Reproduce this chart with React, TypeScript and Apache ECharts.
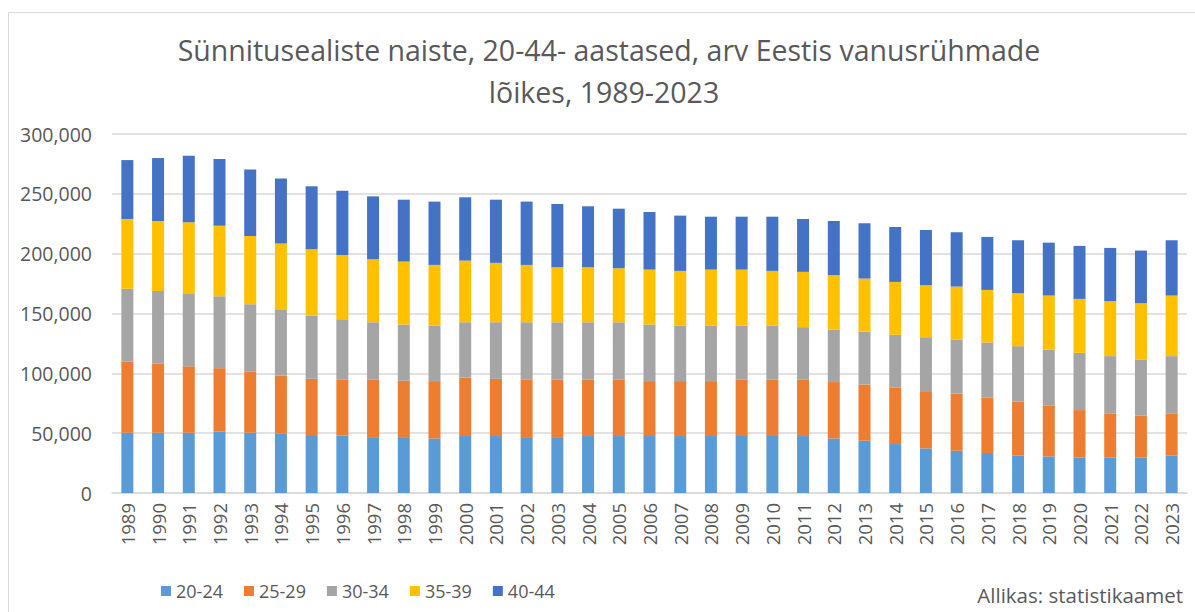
import React, { useEffect, useRef } from "react";
import * as echarts from "echarts";

const years = [
  "1989", "1990", "1991", "1992", "1993", "1994", "1995", "1996", "1997", "1998",
  "1999", "2000", "2001", "2002", "2003", "2004", "2005", "2006", "2007", "2008",
  "2009", "2010", "2011", "2012", "2013", "2014", "2015", "2016", "2017", "2018",
  "2019", "2020", "2021", "2022", "2023",
];

const age20_24 = [
  50400, 50400, 50400, 51500, 50400, 49500, 48400, 47900, 46700, 46700,
  45600, 47600, 47600, 46700, 46700, 47600, 47600, 47600, 47600, 47600,
  48400, 48400, 47600, 45600, 43700, 40900, 37300, 35300, 33400, 31400,
  30600, 29500, 29500, 29500, 31400,
];
const age25_29 = [
  59200, 57600, 55600, 52800, 50900, 48700, 47000, 46700, 47900, 47100,
  47900, 48900, 47800, 47900, 47900, 47000, 47000, 45900, 45900, 45900,
  46200, 46200, 47000, 47100, 47000, 47000, 47800, 47900, 46200, 45100,
  42300, 39800, 36700, 35100, 34800,
];
const age30_34 = [
  61000, 60900, 60900, 60100, 56500, 54800, 52900, 50600, 48100, 47000,
  46200, 46200, 47300, 48100, 48100, 48100, 48100, 47300, 46200, 46200,
  45100, 45100, 44000, 43900, 44200, 44300, 45100, 45100, 46200, 46200,
  47000, 47800, 48200, 47000, 48200,
];
const age35_39 = [
  58400, 58400, 59300, 59000, 57000, 55400, 55400, 53700, 52600, 52600,
  50900, 51500, 49600, 47900, 45900, 45900, 45100, 45900, 45900, 47000,
  47000, 45900, 46200, 45400, 44300, 44200, 43400, 44200, 43900, 44200,
  45100, 45100, 45900, 47000, 50600,
];
const age40_44 = [
  49200, 52600, 55700, 55700, 55600, 54500, 52600, 53700, 52600, 51700,
  52900, 52900, 52800, 52900, 52900, 51000, 49800, 48100, 46200, 44200,
  44200, 45300, 44200, 45300, 46200, 45900, 46200, 45400, 44300, 44300,
  44200, 44300, 44500, 44000, 46200,
];

const seriesNames = ["20-24", "25-29", "30-34", "35-39", "40-44"];
const seriesColors = ["#5b9bd5", "#ed7d31", "#a5a5a5", "#ffc000", "#4472c4"];
const seriesData = [age20_24, age25_29, age30_34, age35_39, age40_44];

const titleLines = [
  "Sünnitusealiste naiste, 20-44- aastased, arv Eestis vanusrühmade",
  "lõikes, 1989-2023",
];
const sourceText = "Allikas: statistikaamet";

const FONT = "'Open Sans', sans-serif";
const TXT = "#595959";

export default function App() {
  const ref = useRef<HTMLDivElement>(null);

  useEffect(() => {
    if (!ref.current) return;
    const chart = echarts.init(ref.current, null, { renderer: "svg" });
    chart.setOption({
      animation: false,
      backgroundColor: "#ffffff",
      textStyle: { fontFamily: FONT },
      grid: { left: 112, right: 8, top: 134, bottom: 119, containLabel: false },
      graphic: [
        {
          type: "rect",
          shape: { x: 8.5, y: 12.5, width: 1300, height: 700 },
          style: { fill: "none", stroke: "#d9d9d9", lineWidth: 1 },
          silent: true,
        },
        {
          type: "text",
          x: 609,
          y: 50,
          style: {
            text: titleLines[0],
            font: `28.5px ${FONT}`,
            fill: TXT,
            textAlign: "center",
            textVerticalAlign: "middle",
          },
        },
        {
          type: "text",
          x: 604,
          y: 92,
          style: {
            text: titleLines[1],
            font: `28.5px ${FONT}`,
            fill: TXT,
            textAlign: "center",
            textVerticalAlign: "middle",
          },
        },
        {
          type: "text",
          x: 1183,
          y: 595,
          style: {
            text: sourceText,
            font: `20.5px ${FONT}`,
            fill: TXT,
            textAlign: "right",
            textVerticalAlign: "middle",
          },
        },
      ],
      legend: {
        left: 156,
        top: 577,
        itemWidth: 10,
        itemHeight: 10,
        itemGap: 21,
        icon: "rect",
        textStyle: { fontFamily: FONT, fontSize: 18, color: TXT },
        data: seriesNames,
      },
      xAxis: {
        type: "category",
        data: years,
        axisLine: { show: true, lineStyle: { color: "#d9d9d9", width: 1.5 } },
        axisTick: { show: false },
        axisLabel: {
          rotate: 90,
          interval: 0,
          margin: 10,
          fontFamily: FONT,
          fontSize: 18.5,
          color: TXT,
        },
      },
      yAxis: {
        type: "value",
        min: 0,
        max: 300000,
        interval: 50000,
        axisLine: { show: false },
        axisTick: { show: false },
        splitLine: { lineStyle: { color: "#d9d9d9", width: 1.5 } },
        axisLabel: {
          margin: 20,
          fontFamily: FONT,
          fontSize: 19.5,
          color: TXT,
          formatter: (v: number) => v.toLocaleString("en-US"),
        },
      },
      series: seriesNames.map((name, i) => ({
        name,
        type: "bar",
        stack: "total",
        barWidth: 12,
        data: seriesData[i],
        itemStyle: { color: seriesColors[i] },
      })),
    });
    return () => chart.dispose();
  }, []);

  return (
    <div
      ref={ref}
      style={{ position: "absolute", left: 0, top: 0, width: 1195, height: 612 }}
    />
  );
}
